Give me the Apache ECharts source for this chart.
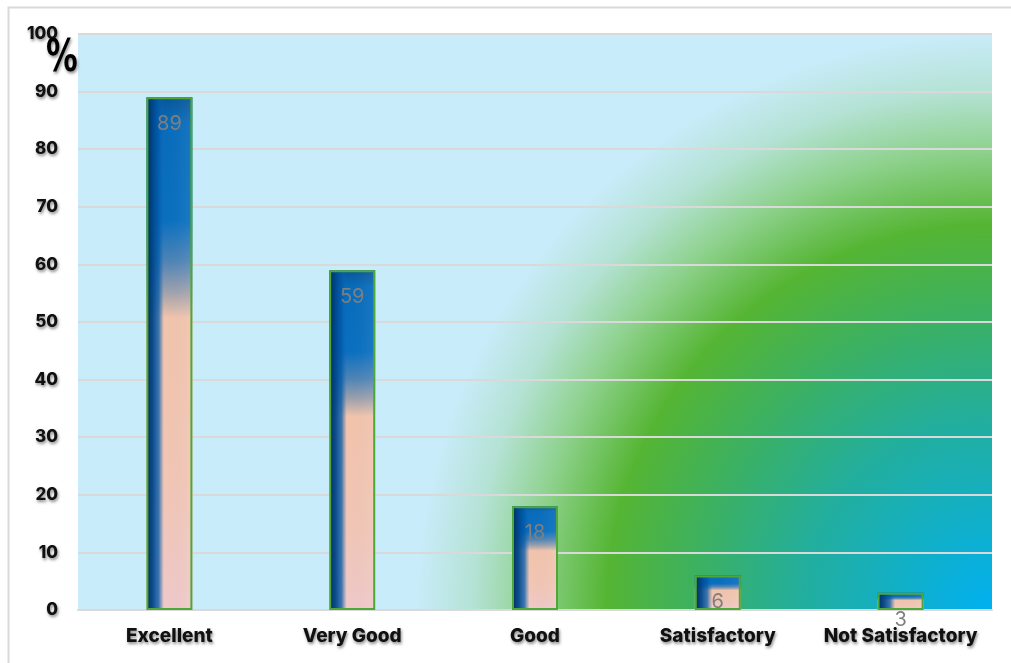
<!DOCTYPE html>
<html>
<head>
<meta charset="utf-8">
<script src="https://cdn.jsdelivr.net/npm/echarts@6/dist/echarts.min.js"></script>
<style>
html,body{margin:0;padding:0;background:#fff;}
#c{width:1011px;height:663px;}
</style>
</head>
<body>
<div id="c"></div>
<script>
const categories = ['Excellent', 'Very Good', 'Good', 'Satisfactory', 'Not Satisfactory'];
const values = [89, 59, 18, 6, 3];
const yMin = 0, yMax = 100, yStep = 10;
const unitLabel = '%';

const chart = echarts.init(document.getElementById('c'));
const shadow = {textShadowColor: 'rgba(0,0,0,0.45)', textShadowBlur: 3, textShadowOffsetX: 1, textShadowOffsetY: 2};

const option = {
  animation: false,
  grid: {
    left: 78, right: 19, top: 34, bottom: 53,
    show: true, borderWidth: 0,
    backgroundColor: {
      type: 'radial', x: 1, y: 1, r: 1.0,
      colorStops: [
        {offset: 0, color: '#00b0f0'},
        {offset: 0.33, color: '#22ae9e'},
        {offset: 0.52, color: '#3db160'},
        {offset: 0.67, color: '#55b533'},
        {offset: 0.8, color: '#8fd28f'},
        {offset: 0.9, color: '#b4e2d4'},
        {offset: 1, color: '#c9ecfa'}
      ]
    }
  },
  xAxis: {
    type: 'category', data: categories,
    axisLine: {show: true, lineStyle: {color: '#d9d9d9', width: 2}},
    axisTick: {show: false},
    axisLabel: Object.assign({color: '#111', fontSize: 19, fontWeight: 800, fontFamily: 'Inter', margin: 17, interval: 0}, shadow)
  },
  yAxis: {
    type: 'value', min: yMin, max: yMax, interval: yStep,
    axisLine: {show: false}, axisTick: {show: false},
    splitLine: {show: true, lineStyle: {color: '#d9d9d9', width: 2}},
    axisLabel: Object.assign({color: '#111', fontSize: 17, fontWeight: 800, fontFamily: 'Inter', margin: 20}, shadow)
  },
  series: [
    {
      type: 'bar', data: values, barWidth: 46, silent: true,
      itemStyle: {
        color: {
          type: 'linear', x: 0, y: 0, x2: 0, y2: 1,
          colorStops: [
            {offset: 0, color: '#0a5597'},
            {offset: 0.05, color: '#086cbb'},
            {offset: 0.24, color: '#0a6fbf'},
            {offset: 0.32, color: '#4f84b4'},
            {offset: 0.38, color: '#a0a2ac'},
            {offset: 0.43, color: '#f3c4ab'},
            {offset: 0.75, color: '#f3c6b4'},
            {offset: 1, color: '#f0c9c8'}
          ]
        }
      }
    },
    {
      type: 'bar', data: values, barWidth: 46, barGap: '-100%', silent: true,
      itemStyle: {
        borderColor: '#4ea838', borderWidth: 2,
        color: {
          type: 'linear', x: 0, y: 0, x2: 1, y2: 0,
          colorStops: [
            {offset: 0, color: 'rgba(0,45,90,1)'},
            {offset: 0.14, color: 'rgba(0,70,140,0.95)'},
            {offset: 0.27, color: 'rgba(0,90,170,0.75)'},
            {offset: 0.38, color: 'rgba(20,100,180,0)'},
            {offset: 1, color: 'rgba(255,255,255,0.08)'}
          ]
        }
      },
      label: {
        show: true, position: 'insideTop', distance: 17,
        color: '#7f7f7f', fontSize: 20, fontFamily: 'Inter'
      }
    }
  ],
  graphic: [
    {type: 'rect', left: 6, top: 5, shape: {width: 1012, height: 670}, style: {fill: 'none', stroke: '#d9d9d9', lineWidth: 2}, z: 100, silent: true},
    {type: 'text', x: 46, y: 38, scaleX: 0.72, style: Object.assign({text: unitLabel, fill: '#000', fontSize: 44, fontWeight: 900, fontFamily: 'DejaVu Sans'}, shadow), z: 100}
  ]
};
chart.setOption(option);
</script>
</body>
</html>
